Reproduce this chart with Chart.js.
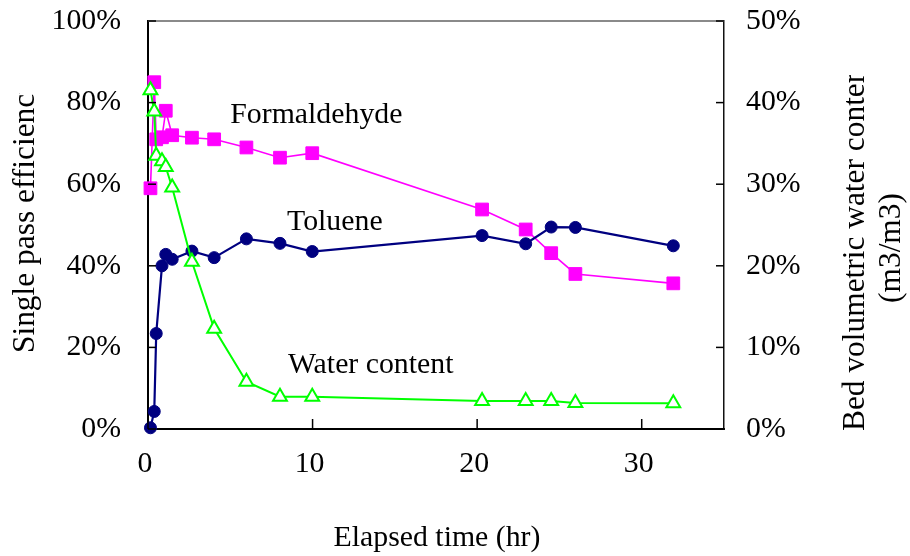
<!DOCTYPE html>
<html>
<head>
<meta charset="utf-8">
<script src="https://cdn.jsdelivr.net/npm/chart.js@4"></script>
<style>
  html, body { margin: 0; padding: 0; background: #fff; }
  #wrap { position: relative; width: 910px; height: 556px; }
</style>
</head>
<body>
<div id="wrap"><canvas id="c"></canvas></div>
<script>
// elapsed time (hr), shared by all three series
const TIME = [0.15, 0.38, 0.5, 0.85, 1.08, 1.47, 2.67, 4.02, 5.98, 8.02, 9.98, 20.3, 22.95, 24.5, 25.97, 31.92];
// single pass efficiency (%)
const FORMALDEHYDE = [59, 85, 71, 71.5, 78, 72, 71.4, 71, 69, 66.5, 67.6, 53.8, 48.9, 43.1, 38.0, 35.7];
const TOLUENE = [0.3, 4.3, 23.4, 40.0, 42.8, 41.6, 43.6, 42.0, 46.6, 45.5, 43.5, 47.4, 45.4, 49.5, 49.4, 44.9];
// bed volumetric water content (%), right axis
const WATER = [41.5, 38.9, 33.5, 32.8, 32.1, 29.6, 20.5, 12.3, 5.8, 3.96, 3.96, 3.43, 3.43, 3.43, 3.2, 3.15];

const X_TICKS = [0, 10, 20, 30];
const SERIES_NAMES = ["Formaldehyde", "Toluene", "Water content"];

const FONT = '"Liberation Serif", "Times New Roman", serif';

function pts(ys) {
  return TIME.map(function (t, i) { return { x: t, y: ys[i] }; });
}

// in-plot labels, anchored in data units of x / left y axis
const NOTES = [
  { text: SERIES_NAMES[0], x: 5.0, y: 74.9 },
  { text: SERIES_NAMES[1], x: 8.45, y: 48.8 },
  { text: SERIES_NAMES[2], x: 8.5, y: 13.65 }
];

function noPad(sc) { sc.paddingTop = 0; sc.paddingBottom = 0; sc.paddingLeft = 0; sc.paddingRight = 0; }

const decor = {
  id: "decor",
  afterDraw: function (chart) {
    var ctx = chart.ctx, a = chart.chartArea, s = chart.scales;
    function seg(x1, y1, x2, y2) { ctx.beginPath(); ctx.moveTo(x1, y1); ctx.lineTo(x2, y2); ctx.stroke(); }
    ctx.save();
    // grey top frame
    ctx.strokeStyle = "#8a8a8a"; ctx.lineWidth = 2;
    seg(a.left, a.top, a.right, a.top);
    // inward tick marks
    ctx.strokeStyle = "#000"; ctx.lineWidth = 1.5;
    s.y.ticks.forEach(function (t) { var p = s.y.getPixelForValue(t.value); seg(a.left, p, a.left + 8, p); });
    s.y2.ticks.forEach(function (t) { var p = s.y2.getPixelForValue(t.value); seg(a.right - 8, p, a.right, p); });
    s.x.ticks.forEach(function (t) { var p = s.x.getPixelForValue(t.value); seg(p, a.bottom, p, a.bottom - 10); });

    ctx.fillStyle = "#000";
    ctx.textBaseline = "alphabetic";
    ctx.textAlign = "left";
    ctx.font = "29.8px " + FONT;
    NOTES.forEach(function (n) {
      ctx.fillText(n.text, s.x.getPixelForValue(n.x), s.y.getPixelForValue(n.y));
    });

    // x title
    ctx.textAlign = "center";
    ctx.fillText("Elapsed time (hr)", 437, 546);

    // rotated titles (clipped at the top like the original)
    function vtext(str, x, y, align, clipTop) {
      ctx.save();
      ctx.beginPath(); ctx.rect(0, clipTop, chart.width, chart.height); ctx.clip();
      ctx.translate(x, y); ctx.rotate(-Math.PI / 2);
      ctx.textAlign = align;
      ctx.fillText(str, 0, 0);
      ctx.restore();
    }
    ctx.font = "31.4px " + FONT;
    vtext("Single pass efficiency", 34, 353, "left", 93);
    vtext("Bed volumetric water content", 864, 431, "left", 75);
    vtext("(m3/m3)", 900, 248, "center", 0);
    ctx.restore();
  }
};

new Chart(document.getElementById("c"), {
  type: "scatter",
  data: {
    datasets: [
      {
        label: "Water content", data: pts(WATER), yAxisID: "y2", order: 1,
        showLine: true, borderColor: "#00ff00", borderWidth: 2,
        pointStyle: "triangle", pointRadius: 8, pointBackgroundColor: "#fff",
        pointBorderColor: "#00ff00", pointBorderWidth: 2, clip: false
      },
      {
        label: "Toluene", data: pts(TOLUENE), yAxisID: "y", order: 2,
        showLine: true, borderColor: "#000080", borderWidth: 2.2,
        pointStyle: "circle", pointRadius: 6, pointBackgroundColor: "#000080",
        pointBorderColor: "#000080", pointBorderWidth: 1, clip: false
      },
      {
        label: "Formaldehyde", data: pts(FORMALDEHYDE), yAxisID: "y", order: 3,
        showLine: true, borderColor: "#ff00ff", borderWidth: 1.6,
        pointStyle: "rect", pointRadius: 9, pointBackgroundColor: "#ff00ff",
        pointBorderColor: "#ff00ff", pointBorderWidth: 1, clip: false
      }
    ]
  },
  options: {
    responsive: true, maintainAspectRatio: false, animation: false,
    layout: { padding: { top: 21, left: 0, right: 0, bottom: 0 } },
    plugins: { legend: { display: false }, tooltip: { enabled: false } },
    scales: {
      x: {
        type: "linear", min: 0, max: 35,
        afterBuildTicks: function (sc) { sc.ticks = X_TICKS.map(function (v) { return { value: v }; }); },
        afterFit: function (sc) { sc.height = 127; noPad(sc); },
        grid: { display: false, drawTicks: false },
        border: { display: true, color: "#000", width: 2 },
        ticks: { color: "#000", font: { family: FONT, size: 29.8 }, padding: 17, labelOffset: -3, maxRotation: 0 }
      },
      y: {
        position: "left", min: 0, max: 100,
        afterFit: function (sc) { sc.width = 148; noPad(sc); },
        grid: { display: false, drawTicks: false },
        border: { display: true, color: "#000", width: 2 },
        ticks: { stepSize: 20, color: "#000", font: { family: FONT, size: 29.8 }, padding: 27,
                 callback: function (v) { return v + "%"; } }
      },
      y2: {
        position: "right", min: 0, max: 50,
        afterFit: function (sc) { sc.width = 186; noPad(sc); },
        grid: { display: false, drawTicks: false },
        border: { display: true, color: "#111", width: 1.5 },
        ticks: { stepSize: 10, color: "#000", font: { family: FONT, size: 29.8 }, padding: 22,
                 callback: function (v) { return v + "%"; } }
      }
    }
  },
  plugins: [decor]
});
</script>
</body>
</html>
